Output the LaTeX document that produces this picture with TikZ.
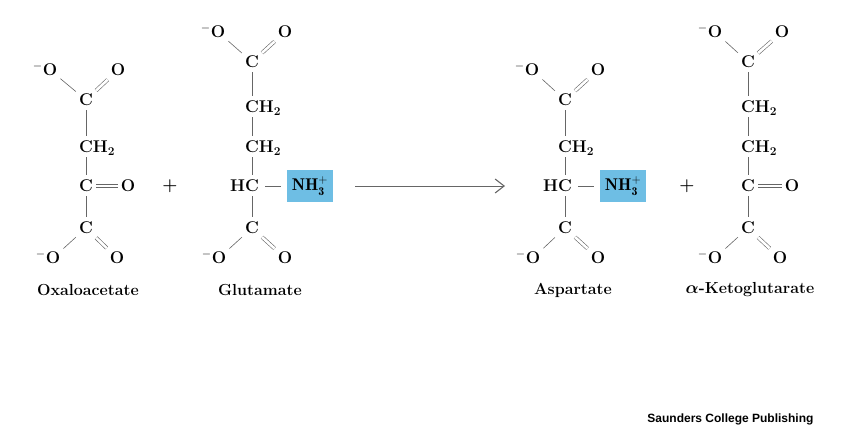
\documentclass[tikz,border=0pt]{standalone}
\usepackage{amsmath}
\usepackage{fontspec}
\usepackage{tikz}
\usetikzlibrary{arrows.meta}
\newfontfamily\creditfont{Liberation Sans}
\definecolor{aminoblue}{RGB}{110,190,228}
\newcommand{\chtwo}{C\rlap{H\textsubscript{2}}}
\newcommand{\negox}{\llap{$^{-}$}O}
\newcommand{\ammonium}{$\mathbf{NH}_{\mathbf{3}}^{\mathbf{+}}$}
\tikzset{>/.tip={Straight Barb[length=9pt,width=14pt,line width=1.1pt]},
  atom/.style={font=\bfseries\fontsize{17}{20}\selectfont, text height=11.6pt, text depth=0pt, inner xsep=3pt, inner ysep=4.5pt},
  bond/.style={draw=black!60, line width=0.6pt},
  dbond/.style={bond, double=white, double distance=2.6pt},
  amino/.style={font=\fontsize{17}{20}\selectfont, fill=aminoblue, minimum width=46.7pt, minimum height=31.7pt, inner sep=0pt},
  molname/.style={font=\bfseries\fontsize{16}{19}\selectfont}}

\begin{document}
\begin{tikzpicture}[x=1pt,y=-1pt]
\useasboundingbox (0,0) rectangle (850,446);
\node[atom] (oaa-o1) at (50,70) {\negox};
\node[atom] (oaa-o2) at (118,70) {O};
\node[atom] (oaa-c1) at (86,100) {C};
\node[atom] (oaa-ch2) at (86,147) {\chtwo};
\node[atom] (oaa-c2) at (86,186) {C};
\node[atom] (oaa-o3) at (128,186) {O};
\node[atom] (oaa-c3) at (86,228) {C};
\node[atom] (oaa-o4) at (53,258) {\negox};
\node[atom] (oaa-o5) at (117,258) {O};
\node[molname] (oaa) at (88,290) {Oxaloacetate};

\node[font=\fontsize{18}{20}\selectfont] (plus-1) at (170,186) {$\boldsymbol{+}$};

\node[atom] (glu-o1) at (218,32) {\negox};
\node[atom] (glu-o2) at (285,32) {O};
\node[atom] (glu-c1) at (252,62) {C};
\node[atom] (glu-ch2-1) at (252,107) {\chtwo};
\node[atom] (glu-ch2-2) at (252,147) {\chtwo};
\node[atom] (glu-hc) at (252,186) {\llap{H}C};
\node[amino] (glu-nh3) at (310,186) {\ammonium};
\node[atom] (glu-c2) at (252,228) {C};
\node[atom] (glu-o3) at (219,258) {\negox};
\node[atom] (glu-o4) at (285,258) {O};
\node[molname] (glu) at (260,290) {Glutamate};

\coordinate (rxn-tail) at (355,186);
\coordinate (rxn-head) at (505,186);

\node[atom] (asp-o1) at (532,70) {\negox};
\node[atom] (asp-o2) at (598,70) {O};
\node[atom] (asp-c1) at (565,100) {C};
\node[atom] (asp-ch2) at (565,147) {\chtwo};
\node[atom] (asp-hc) at (565,186) {\llap{H}C};
\node[amino] (asp-nh3) at (623,186) {\ammonium};
\node[atom] (asp-c2) at (565,228) {C};
\node[atom] (asp-o3) at (533,258) {\negox};
\node[atom] (asp-o4) at (598,258) {O};
\node[molname] (asp) at (573,290) {Aspartate};

\node[font=\fontsize{18}{20}\selectfont] (plus-2) at (687,186) {$\boldsymbol{+}$};

\node[atom] (akg-o1) at (715,32) {\negox};
\node[atom] (akg-o2) at (782,32) {O};
\node[atom] (akg-c1) at (748,62) {C};
\node[atom] (akg-ch2-1) at (748,107) {\chtwo};
\node[atom] (akg-ch2-2) at (748,147) {\chtwo};
\node[atom] (akg-c2) at (748,186) {C};
\node[atom] (akg-o3) at (792,186) {O};
\node[atom] (akg-c3) at (748,228) {C};
\node[atom] (akg-o4) at (715,258) {\negox};
\node[atom] (akg-o5) at (780,258) {O};
\node[molname] (akg) at (750,290) {$\boldsymbol{\alpha}$-Ketoglutarate};

\node[font=\creditfont\bfseries\fontsize{12}{14}\selectfont, anchor=east] (credit) at (817,419) {Saunders College Publishing};

\draw[bond] (oaa-o1) -- (oaa-c1);
\draw[dbond] (oaa-c1) -- (oaa-o2);
\draw[bond] (oaa-c1) -- (oaa-ch2);
\draw[bond] (oaa-ch2) -- (oaa-c2);
\draw[dbond] (oaa-c2) -- (oaa-o3);
\draw[bond] (oaa-c2) -- (oaa-c3);
\draw[bond] (oaa-c3) -- (oaa-o4);
\draw[dbond] (oaa-c3) -- (oaa-o5);

\draw[bond] (glu-o1) -- (glu-c1);
\draw[dbond] (glu-c1) -- (glu-o2);
\draw[bond] (glu-c1) -- (glu-ch2-1);
\draw[bond] (glu-ch2-1) -- (glu-ch2-2);
\draw[bond] (glu-ch2-2) -- (glu-hc);
\draw[bond,shorten <=3pt,shorten >=5pt] (glu-hc) -- (glu-nh3);
\draw[bond] (glu-hc) -- (glu-c2);
\draw[bond] (glu-c2) -- (glu-o3);
\draw[dbond] (glu-c2) -- (glu-o4);

\draw[bond,->] (rxn-tail) -- (rxn-head);

\draw[bond] (asp-o1) -- (asp-c1);
\draw[dbond] (asp-c1) -- (asp-o2);
\draw[bond] (asp-c1) -- (asp-ch2);
\draw[bond] (asp-ch2) -- (asp-hc);
\draw[bond,shorten <=3pt,shorten >=5pt] (asp-hc) -- (asp-nh3);
\draw[bond] (asp-hc) -- (asp-c2);
\draw[bond] (asp-c2) -- (asp-o3);
\draw[dbond] (asp-c2) -- (asp-o4);

\draw[bond] (akg-o1) -- (akg-c1);
\draw[dbond] (akg-c1) -- (akg-o2);
\draw[bond] (akg-c1) -- (akg-ch2-1);
\draw[bond] (akg-ch2-1) -- (akg-ch2-2);
\draw[bond] (akg-ch2-2) -- (akg-c2);
\draw[dbond] (akg-c2) -- (akg-o3);
\draw[bond] (akg-c2) -- (akg-c3);
\draw[bond] (akg-c3) -- (akg-o4);
\draw[dbond] (akg-c3) -- (akg-o5);
\end{tikzpicture}
\end{document}
